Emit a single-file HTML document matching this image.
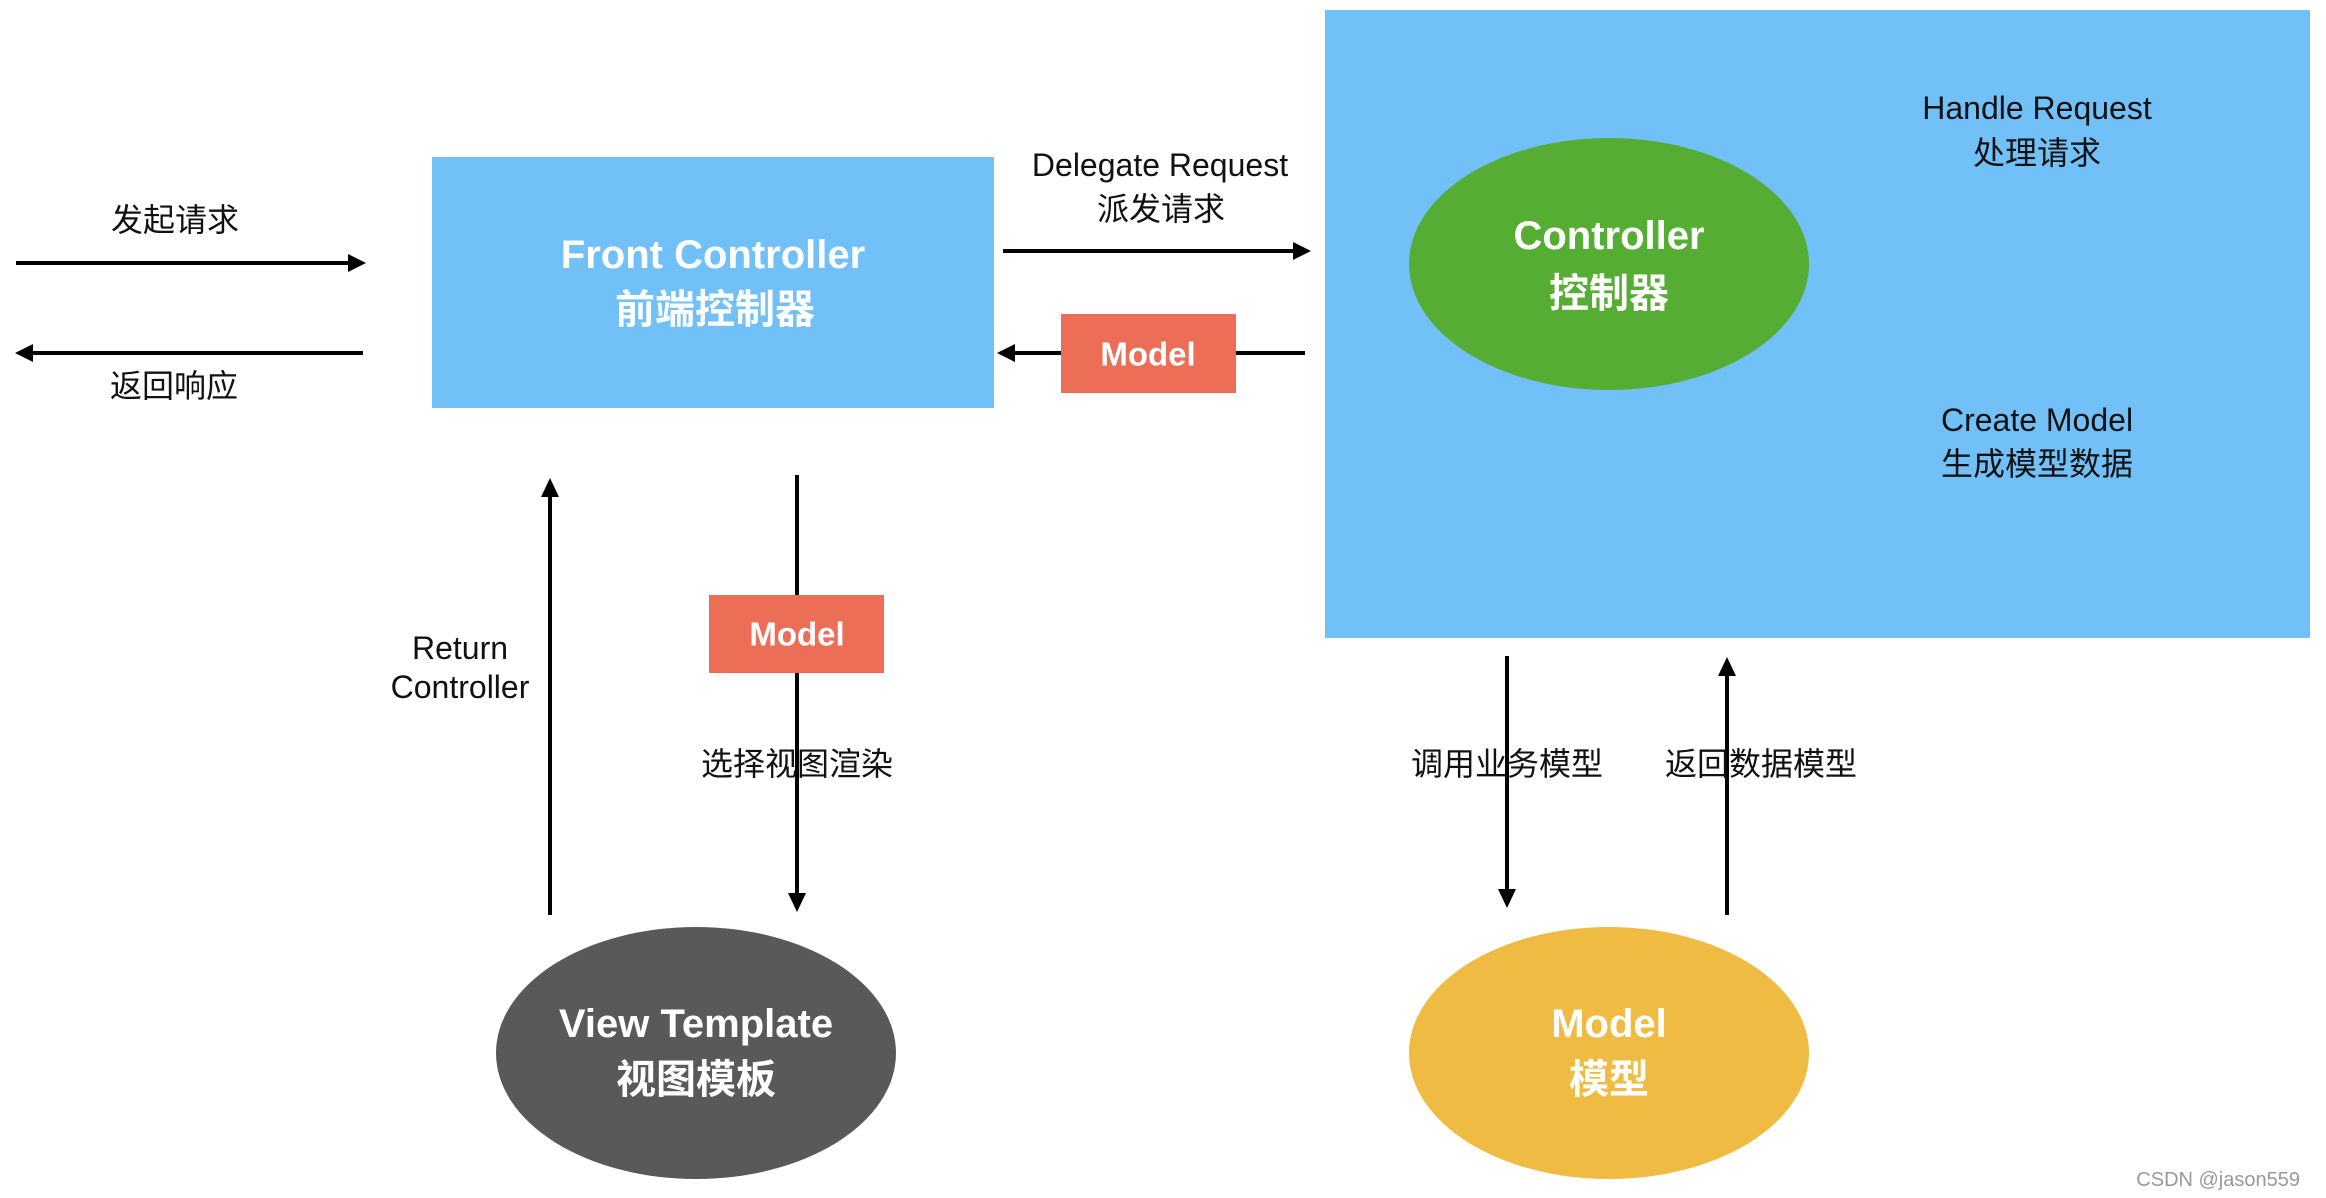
<!DOCTYPE html>
<html><head><meta charset="utf-8"><style>
html,body{margin:0;padding:0;background:#fff;}
svg{display:block;}
text{font-family:"Liberation Sans","Noto Sans CJK SC",sans-serif;}
</style></head><body>
<svg width="2326" height="1198" viewBox="0 0 2326 1198" xmlns="http://www.w3.org/2000/svg">
<rect x="1325" y="10" width="985" height="628" fill="#71c0f8"/>
<rect x="432" y="157" width="562" height="251" fill="#71c0f8"/>
<ellipse cx="1609" cy="264" rx="200" ry="126" fill="#55ad34"/>
<ellipse cx="1609" cy="1053" rx="200" ry="126" fill="#efbb42"/>
<ellipse cx="696" cy="1053" rx="200" ry="126" fill="#595959"/>

<g stroke="#000" stroke-width="4" fill="none">
<line x1="16" y1="263" x2="350" y2="263"/>
<line x1="363" y1="353" x2="30" y2="353"/>
<line x1="1003" y1="251" x2="1296" y2="251"/>
<line x1="1305" y1="353" x2="1012" y2="353"/>
<line x1="550" y1="915" x2="550" y2="494"/>
<line x1="797" y1="475" x2="797" y2="896"/>
<line x1="1507" y1="656" x2="1507" y2="892"/>
<line x1="1727" y1="915" x2="1727" y2="673"/>
</g>
<g fill="#000">
<polygon points="366,263 348,254 348,272"/>
<polygon points="15,353 33,344 33,362"/>
<polygon points="1311,251 1293,242 1293,260"/>
<polygon points="997,353 1015,344 1015,362"/>
<polygon points="550,478 541,497 559,497"/>
<polygon points="797,912 788,893 806,893"/>
<polygon points="1507,908 1498,889 1516,889"/>
<polygon points="1727,657 1718,676 1736,676"/>
</g>
<rect x="1061" y="314" width="175" height="79" fill="#ec6e57"/>
<rect x="709" y="595" width="175" height="78" fill="#ec6e57"/>

<g text-anchor="middle" dominant-baseline="central" fill="#111" font-size="32">
<text x="175" y="220">发起请求</text>
<text x="174" y="386">返回响应</text>
<text x="1160" y="165">Delegate Request</text>
<text x="1161" y="209">派发请求</text>
<text x="2037" y="108">Handle Request</text>
<text x="2037" y="153">处理请求</text>
<text x="2037" y="420">Create Model</text>
<text x="2037" y="464">生成模型数据</text>
<text x="460" y="648">Return</text>
<text x="460" y="687">Controller</text>
<text x="797" y="764">选择视图渲染</text>
<text x="1507" y="764">调用业务模型</text>
<text x="1761" y="764">返回数据模型</text>
</g>
<g text-anchor="middle" dominant-baseline="central" fill="#fff" font-size="40" font-weight="bold">
<text x="713" y="255">Front Controller</text>
<text x="715" y="310">前端控制器</text>
<text x="1609" y="236">Controller</text>
<text x="1609" y="294">控制器</text>
<text x="696" y="1024">View Template</text>
<text x="696" y="1080">视图模板</text>
<text x="1609" y="1024">Model</text>
<text x="1609" y="1080">模型</text>
<text x="1148" y="354" font-size="33">Model</text>
<text x="797" y="634" font-size="33">Model</text>
</g>
<text x="2300" y="1180" text-anchor="end" dominant-baseline="central" fill="#999" font-size="20" font-family="Liberation Sans, sans-serif">CSDN @jason559</text>
</svg>
</body></html>
